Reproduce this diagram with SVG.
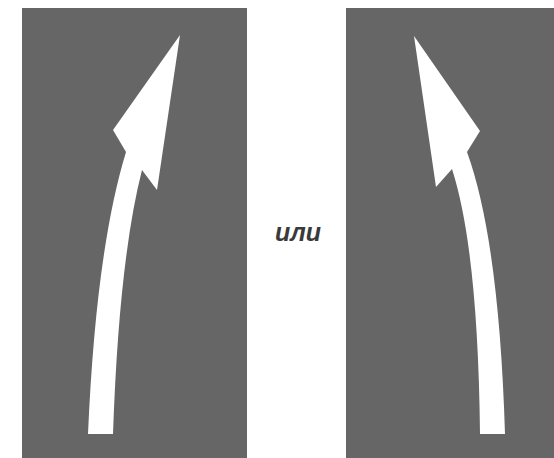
<svg xmlns="http://www.w3.org/2000/svg" width="554" height="458" viewBox="0 0 554 458">
<style>
.panel{fill:#666666}
.arrow{fill:#ffffff}
.lbl{font-family:"Liberation Sans",Arial,sans-serif;font-style:italic;font-weight:bold;font-size:25px;fill:#3a3a3a}
</style>
<rect width="554" height="458" fill="#ffffff"/>
<g id="left-panel">
<rect class="panel" x="22" y="8" width="225" height="450"/>
<path class="arrow" d="M180,35 L113,130 L126,152 Q96,250 88,434 L113,434 Q119,260 142,170 L157,190 Z"/>
</g>
<g id="right-panel">
<rect class="panel" x="346" y="8" width="208" height="450"/>
<path class="arrow" d="M414,36 L480,131 L467,152 Q499,240 505,434 L480,434 Q478,250 452,169 L436,187 Z"/>
</g>
<g id="label">
<text class="lbl" x="298" y="241" text-anchor="middle">или</text>
</g>
</svg>
